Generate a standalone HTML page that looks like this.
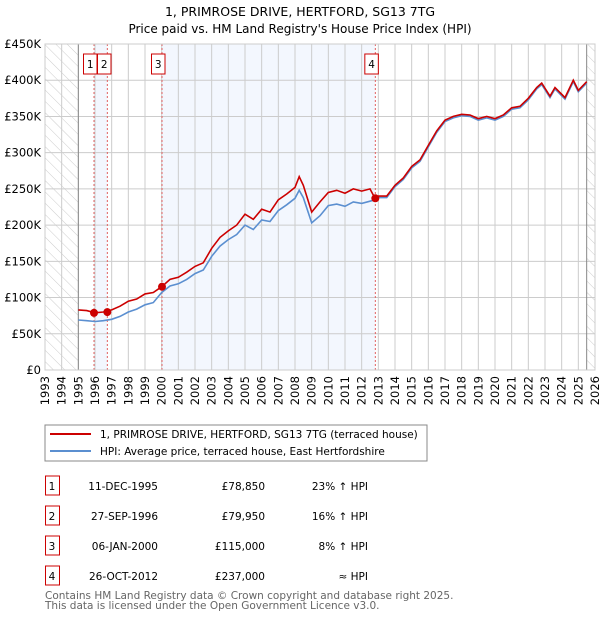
<!DOCTYPE html>
<html><head><meta charset="utf-8"><style>
body{margin:0;background:#fff;font-family:"DejaVu Sans","Liberation Sans",sans-serif;}
svg text{font-family:"DejaVu Sans","Liberation Sans",sans-serif;}
</style></head><body>
<svg id="c" width="600" height="620" viewBox="0 0 600 620">
<defs><pattern id="hatch" width="8" height="8" patternUnits="userSpaceOnUse" patternTransform="rotate(-45)"><line x1="0" y1="0" x2="0" y2="8" stroke="#ccc" stroke-width="1"/></pattern></defs>
<text x="300" y="16" text-anchor="middle" font-size="12.5">1, PRIMROSE DRIVE, HERTFORD, SG13 7TG</text>
<text x="300" y="33" text-anchor="middle" font-size="12">Price paid vs. HM Land Registry's House Price Index (HPI)</text>
<g id="plot"></g>
<rect x="45" y="425" width="382" height="36" fill="#fff" stroke="#888"/>
<line x1="50" y1="434" x2="91" y2="434" stroke="#cc0000" stroke-width="2"/>
<text x="100" y="438" font-size="10.5">1, PRIMROSE DRIVE, HERTFORD, SG13 7TG (terraced house)</text>
<line x1="50" y1="451" x2="91" y2="451" stroke="#5b8fd0" stroke-width="2"/>
<text x="100" y="455" font-size="10.5">HPI: Average price, terraced house, East Hertfordshire</text>
<g id="table" font-size="10.5"></g>
<text x="45" y="599" font-size="10.5" fill="#666">Contains HM Land Registry data © Crown copyright and database right 2025.</text>
<text x="45" y="609" font-size="10.5" fill="#666">This data is licensed under the Open Government Licence v3.0.</text>
</svg>
<script>
const years=[1995.0,1995.5,1996.0,1996.5,1997.0,1997.5,1998.0,1998.5,1999.0,1999.5,2000.0,2000.5,2001.0,2001.5,2002.0,2002.5,2003.0,2003.5,2004.0,2004.5,2005.0,2005.5,2006.0,2006.5,2007.0,2007.5,2008.0,2008.25,2008.5,2009.0,2009.5,2010.0,2010.5,2011.0,2011.5,2012.0,2012.5,2012.8,2013.0,2013.5,2014.0,2014.5,2015.0,2015.5,2016.0,2016.5,2017.0,2017.5,2018.0,2018.5,2019.0,2019.5,2020.0,2020.5,2021.0,2021.5,2022.0,2022.5,2022.8,2023.3,2023.6,2024.2,2024.7,2025.0,2025.5];
const propertyValues=[83,82,79,80,83,88,95,98,105,107,115,125,128,135,143,148,168,183,192,200,215,208,222,218,235,243,252,267,255,218,232,245,248,244,250,247,250,237,240,240,255,265,281,290,310,330,345,350,353,352,347,350,347,352,362,364,375,390,396,378,390,376,400,386,398];
const hpiValues=[69,68,67,68,70,74,80,84,90,93,107,116,119,125,133,138,157,171,180,187,200,194,207,205,220,228,237,248,238,203,213,227,229,226,232,230,233,235,238,238,253,263,279,288,308,328,343,348,351,350,345,348,345,350,360,362,373,388,394,376,388,374,398,384,396];
const saleYears=[1995.94,1996.74,2000.02,2012.82];
const salePrices=[78.85,79.95,115,237];
const saleLabels=["1","2","3","4"];
const saleDates=["11-DEC-1995","27-SEP-1996","06-JAN-2000","26-OCT-2012"];
const salePriceText=["£78,850","£79,950","£115,000","£237,000"];
const saleHpiText=["23% ↑ HPI","16% ↑ HPI","8% ↑ HPI","≈ HPI"];
const yTicks=[0,50,100,150,200,250,300,350,400,450];
const yTickLabels=["£0","£50K","£100K","£150K","£200K","£250K","£300K","£350K","£400K","£450K"];
const xTicks=[];for(let y=1993;y<=2026;y++)xTicks.push(y);

const NS="http://www.w3.org/2000/svg";
const X0=45,X1=595,Y0=370,Y1=44;
const xs=y=>X0+(y-1993)/(2026-1993)*(X1-X0);
const ys=v=>Y0-v/450*(Y0-Y1);
const plot=document.getElementById('plot');
function mk(tag,attrs,parent){const e=document.createElementNS(NS,tag);for(const k in attrs)e.setAttribute(k,attrs[k]);(parent||plot).appendChild(e);return e;}

let e=mk('rect',{x:X0,y:Y1,width:X1-X0,height:Y0-Y1,fill:'#fff'});


e=mk('rect',{x:xs(saleYears[0]),y:Y1,width:xs(saleYears[1])-xs(saleYears[0]),height:Y0-Y1,fill:'#eef3fd',opacity:0.7});


e=mk('rect',{x:xs(saleYears[2]),y:Y1,width:xs(saleYears[3])-xs(saleYears[2]),height:Y0-Y1,fill:'#eef3fd',opacity:0.7});


e=mk('rect',{x:X0,y:Y1,width:xs(1995)-X0,height:Y0-Y1,fill:'url(#hatch)'});


e=mk('rect',{x:xs(2025.5),y:Y1,width:X1-xs(2025.5),height:Y0-Y1,fill:'url(#hatch)'});



yTicks.forEach((v,i)=>{
  const g=mk('line',{x1:X0,x2:X1,y1:ys(v),y2:ys(v),stroke:'#cccccc','stroke-width':1});
  
  
  const t=mk('text',{x:X0-4,y:ys(v)+4,'text-anchor':'end','font-size':11.5});
  t.textContent=yTickLabels[i];
  
  
});
xTicks.forEach(y=>{
  const g=mk('line',{x1:xs(y),x2:xs(y),y1:Y1,y2:Y0,stroke:'#cccccc','stroke-width':1});
  
  
  const t=mk('text',{x:0,y:0,'text-anchor':'end','font-size':11.5,transform:`translate(${xs(y)+4},${Y0+6}) rotate(-90)`});
  t.textContent=y;
  
  
});
e=mk('line',{x1:xs(1995),x2:xs(1995),y1:Y1,y2:Y0,stroke:'#888'});


e=mk('line',{x1:xs(2025.5),x2:xs(2025.5),y1:Y1,y2:Y0,stroke:'#888'});



saleYears.forEach((y,i)=>{
  const l=mk('line',{x1:xs(y),x2:xs(y),y1:Y1,y2:Y0,stroke:'#e06060','stroke-dasharray':'2,2','stroke-width':1});
  
  
});

const pts=a=>a.map((v,i)=>xs(years[i]).toFixed(1)+','+ys(v).toFixed(1)).join(' ');
e=mk('polyline',{points:pts(hpiValues),fill:'none',stroke:'#5b8fd0','stroke-width':1.6});


e=mk('polyline',{points:pts(propertyValues),fill:'none',stroke:'#cc0000','stroke-width':1.6});



saleYears.forEach((y,i)=>{
  const d=mk('circle',{cx:xs(y),cy:ys(salePrices[i]),r:4,fill:'#cc0000'});
  
  
  const bx=i===1?xs(saleYears[0])+3.5:xs(y)-10.5;
  const r=mk('rect',{x:bx,y:54,width:13.5,height:20,fill:'#fff',stroke:'#cc0000'});
  
  
  const t=mk('text',{x:bx+6.75,y:68,'text-anchor':'middle','font-size':10.5});
  t.textContent=saleLabels[i];
  
  
});
e=mk('rect',{x:X0,y:Y1,width:X1-X0,height:Y0-Y1,fill:'none',stroke:'#cccccc'});



const tbl=document.getElementById('table');
saleLabels.forEach((s,i)=>{
  const y=476+i*30;
  const r=mk('rect',{x:45.5,y:y,width:14,height:19,fill:'#fff',stroke:'#cc0000'},tbl);
  
  
  const cells=[[52,'middle',s,'sale-row-number'],[158,'end',saleDates[i],'sale-row-date'],[265,'end',salePriceText[i],'sale-row-price'],[368,'end',saleHpiText[i],'sale-row-hpi']];
  cells.forEach(c=>{
    const t=mk('text',{x:c[0],y:y+14,'text-anchor':c[1]},tbl);
    t.textContent=c[2];
    
    
  });
});
</script>
</body></html>
